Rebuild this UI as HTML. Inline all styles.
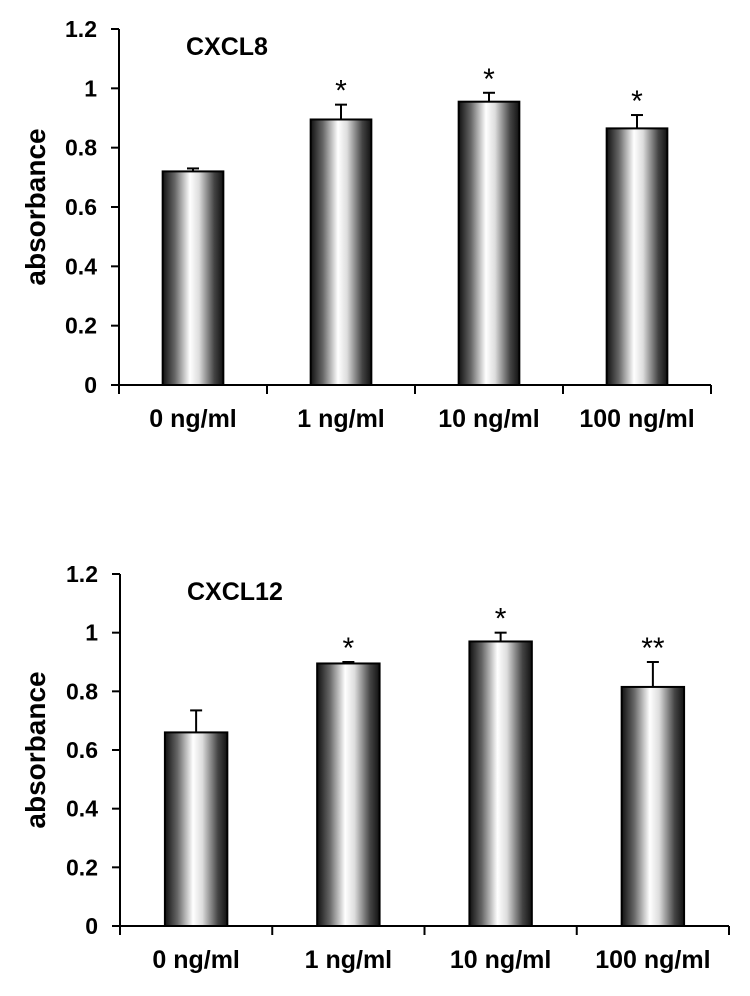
<!DOCTYPE html>
<html><head><meta charset="utf-8"><style>
html,body{margin:0;padding:0;background:#fff;}
svg{display:block;font-family:"Liberation Sans",Arial,sans-serif;font-weight:bold;}
</style></head><body>
<svg id="c" width="750" height="996" viewBox="0 0 750 996">
<defs>
<linearGradient id="g" x1="0" x2="1" y1="0" y2="0">
<stop offset="0" stop-color="#111"/>
<stop offset="0.2" stop-color="#666"/>
<stop offset="0.45" stop-color="#fff"/>
<stop offset="0.6" stop-color="#ddd"/>
<stop offset="0.85" stop-color="#444"/>
<stop offset="1" stop-color="#111"/>
</linearGradient>
</defs>
</svg>
<script>
const categories = ["0 ng/ml","1 ng/ml","10 ng/ml","100 ng/ml"];
const yTicks = [0,0.2,0.4,0.6,0.8,1,1.2];
const yTickLabels = ["0","0.2","0.4","0.6","0.8","1","1.2"];
const cxcl8Values = [0.72,0.895,0.955,0.865];
const cxcl8Errors = [0.01,0.05,0.03,0.045];
const cxcl8Marks = ["","*","*","*"];
const cxcl12Values = [0.66,0.895,0.97,0.815];
const cxcl12Errors = [0.075,0.005,0.03,0.085];
const cxcl12Marks = ["","*","*","**"];

const svg = document.getElementById('c');
const NS = 'http://www.w3.org/2000/svg';
function mk(tag, attrs, parent){
  const e = document.createElementNS(NS, tag);
  for (const k in attrs) e.setAttribute(k, attrs[k]);
  (parent||svg).appendChild(e);
  return e;
}
function panel(name, title, values, errors, marks, x0, x1, y0, yTop){
  const g = mk('g', {});
  
  
  const yS = v => y0 - (v/1.2)*(y0-yTop);
  const bw = (x1-x0)/categories.length;
  const xS = i => x0 + bw*(i+0.5);
  const ya = mk('line', {x1:x0,x2:x0,y1:yTop,y2:y0,stroke:'#000','stroke-width':2}, g);
  
  
  const xa = mk('line', {x1:x0,x2:x1,y1:y0,y2:y0,stroke:'#000','stroke-width':2}, g);
  
  
  yTicks.forEach((t,i)=>{
    mk('line',{x1:x0-8,x2:x0,y1:yS(t),y2:yS(t),stroke:'#000','stroke-width':2},g);
    const tl = mk('text',{x:x0-22,y:yS(t)+8,'text-anchor':'end','font-size':23},g);
    tl.textContent = yTickLabels[i];
    
    
  });
  for (let i=0;i<=categories.length;i++){
    mk('line',{x1:x0+bw*i,x2:x0+bw*i,y1:y0,y2:y0+9,stroke:'#000','stroke-width':2},g);
  }
  const yt = mk('text',{x:0,y:0,'text-anchor':'middle','font-size':28,transform:`translate(45,${(y0+yTop)/2}) rotate(-90)`},g);
  yt.textContent = 'absorbance';
  
  
  const tt = mk('text',{x:x0+67,y:yTop+26,'font-size':25},g);
  tt.textContent = title;
  
  
  categories.forEach((c,i)=>{
    const w = bw*0.41;
    const top = yS(values[i]);
    const et = yS(values[i]+errors[i]);
    const el = mk('line',{x1:xS(i),x2:xS(i),y1:et,y2:top,stroke:'#000','stroke-width':2},g);
    
    
    mk('line',{x1:xS(i)-6,x2:xS(i)+6,y1:et,y2:et,stroke:'#000','stroke-width':2},g);
    const r = mk('rect',{x:xS(i)-w/2,y:top,width:w,height:y0-top,fill:'url(#g)',stroke:'#000','stroke-width':2},g);
    
    
    if (marks[i]){
      const m = mk('text',{x:xS(i),y:et-4,'text-anchor':'middle','font-size':30,'font-weight':'normal'},g);
      m.textContent = marks[i];
      
      
    }
    const cl = mk('text',{x:xS(i),y:y0+42,'text-anchor':'middle','font-size':25},g);
    cl.textContent = c;
    
    
  });
}
panel('cxcl8','CXCL8',cxcl8Values,cxcl8Errors,cxcl8Marks,119,711,385,29);
panel('cxcl12','CXCL12',cxcl12Values,cxcl12Errors,cxcl12Marks,120,729,926,574);
</script>
</body></html>
